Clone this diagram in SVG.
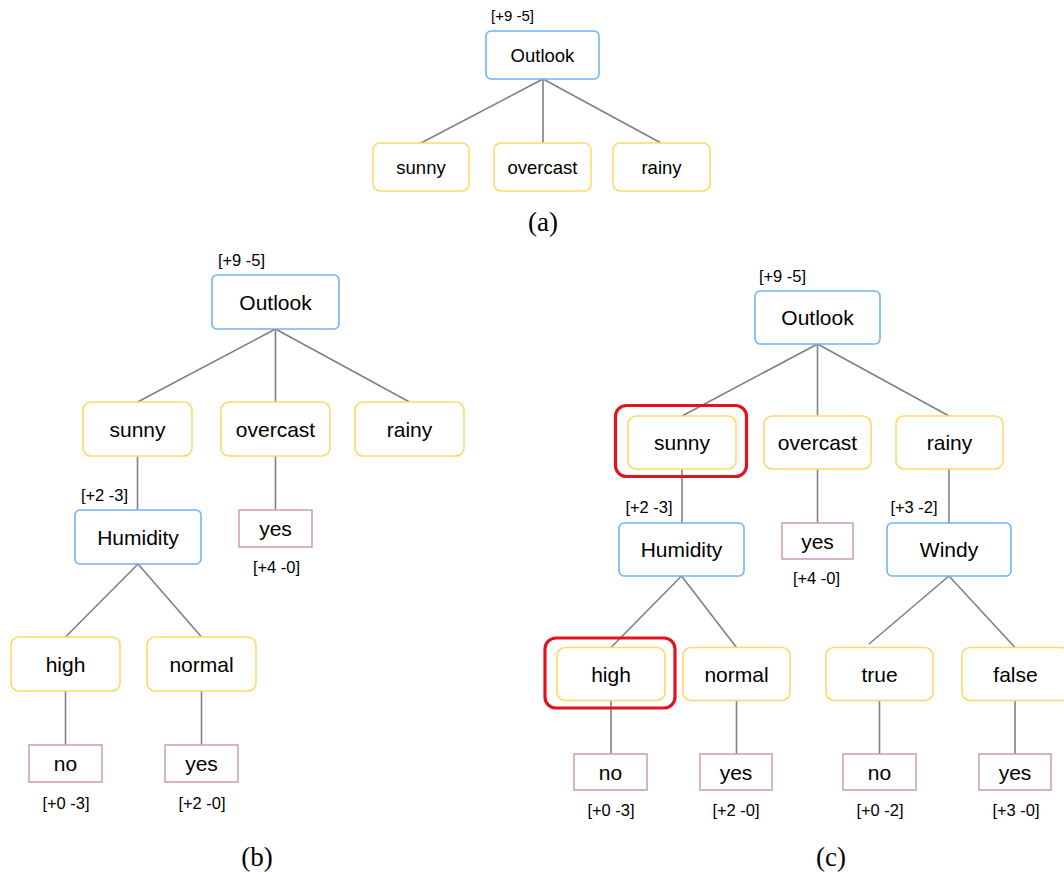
<svg xmlns="http://www.w3.org/2000/svg" width="1064" height="872" viewBox="0 0 1064 872">
<style>
.b{fill:#fff;stroke:#70B3F7;stroke-width:1.6}
.y{fill:#fff;stroke:#FFD966;stroke-width:1.6}
.p{fill:#fff;stroke:#CDA2BE;stroke-width:1.6}
.r{fill:none;stroke:#E3131D;stroke-width:3.2}
.e{stroke:#808080;stroke-width:1.6;fill:none}
.t{font-family:"Liberation Sans",Arial,sans-serif;fill:#000;text-anchor:middle;dominant-baseline:central}
.n{font-size:21px}
.na{font-size:18.5px}
.l{font-size:16.5px}
.la{font-size:15px}
.cap{font-family:"Liberation Serif","Times New Roman",serif;font-size:27px;text-anchor:middle;fill:#000}
</style>
<rect width="1064" height="872" fill="#fff"/>
<g id="connectors">
<line class="e" x1="543" y1="79" x2="421" y2="143"/>
<line class="e" x1="543" y1="79" x2="543" y2="143"/>
<line class="e" x1="543" y1="79" x2="661" y2="143"/>
<line class="e" x1="275.5" y1="329" x2="137.5" y2="402"/>
<line class="e" x1="275.5" y1="329" x2="275.5" y2="402"/>
<line class="e" x1="275.5" y1="329" x2="409.5" y2="402"/>
<line class="e" x1="137.5" y1="456" x2="137.5" y2="510"/>
<line class="e" x1="275.5" y1="456" x2="275.5" y2="510"/>
<line class="e" x1="138" y1="564" x2="65.5" y2="637"/>
<line class="e" x1="138" y1="564" x2="201.5" y2="637"/>
<line class="e" x1="65.5" y1="691" x2="65.5" y2="745"/>
<line class="e" x1="201.5" y1="691" x2="201.5" y2="745"/>
<line class="e" x1="817.5" y1="344" x2="682" y2="416"/>
<line class="e" x1="817.5" y1="344" x2="817.5" y2="416"/>
<line class="e" x1="817.5" y1="344" x2="949" y2="416"/>
<line class="e" x1="682" y1="469" x2="682" y2="523"/>
<line class="e" x1="817.5" y1="469" x2="817.5" y2="523"/>
<line class="e" x1="949" y1="469" x2="949" y2="523"/>
<line class="e" x1="681.5" y1="576" x2="611" y2="647.5"/>
<line class="e" x1="681.5" y1="576" x2="736.5" y2="647.5"/>
<line class="e" x1="949" y1="576" x2="869" y2="644"/>
<line class="e" x1="949" y1="576" x2="1015" y2="647.5"/>
<line class="e" x1="611" y1="700.5" x2="611" y2="754"/>
<line class="e" x1="736.5" y1="700.5" x2="736.5" y2="754"/>
<line class="e" x1="879.5" y1="700.5" x2="879.5" y2="754"/>
<line class="e" x1="1015" y1="700.5" x2="1015" y2="754"/>
</g>
<!-- panel a -->
<g id="a-outlook"><rect class="b" x="486" y="31" width="113" height="48" rx="5"/><text class="t na" x="542.5" y="55">Outlook</text><text class="t la" x="512.5" y="15">[+9 -5]</text></g>
<g id="a-sunny"><rect class="y" x="373" y="143" width="96" height="48" rx="7"/><text class="t na" x="421" y="167">sunny</text></g>
<g id="a-overcast"><rect class="y" x="494" y="143" width="97" height="48" rx="7"/><text class="t na" x="542.5" y="167">overcast</text></g>
<g id="a-rainy"><rect class="y" x="613" y="143" width="97" height="48" rx="7"/><text class="t na" x="661.5" y="167">rainy</text></g>
<text class="cap" x="543" y="231">(a)</text>
<!-- panel b -->
<g id="b-outlook"><rect class="b" x="212" y="275" width="127" height="54" rx="5"/><text class="t n" x="275.5" y="302">Outlook</text><text class="t l" x="241.5" y="260">[+9 -5]</text></g>
<g id="b-sunny"><rect class="y" x="83" y="402" width="109" height="54" rx="8"/><text class="t n" x="137.5" y="429">sunny</text></g>
<g id="b-overcast"><rect class="y" x="221" y="402" width="109" height="54" rx="8"/><text class="t n" x="275.5" y="429">overcast</text></g>
<g id="b-rainy"><rect class="y" x="355" y="402" width="109" height="54" rx="8"/><text class="t n" x="409.5" y="429">rainy</text></g>
<g id="b-humidity"><rect class="b" x="75" y="510" width="126" height="54" rx="5"/><text class="t n" x="138" y="537">Humidity</text><text class="t l" x="104.5" y="495">[+2 -3]</text></g>
<g id="b-yes1"><rect class="p" x="239" y="510" width="73" height="37"/><text class="t n" x="275.5" y="528.5">yes</text><text class="t l" x="276.5" y="567">[+4 -0]</text></g>
<g id="b-high"><rect class="y" x="11" y="637" width="109" height="54" rx="8"/><text class="t n" x="65.5" y="664">high</text></g>
<g id="b-normal"><rect class="y" x="147" y="637" width="109" height="54" rx="8"/><text class="t n" x="201.5" y="664">normal</text></g>
<g id="b-no"><rect class="p" x="29" y="745" width="73" height="37"/><text class="t n" x="65.5" y="763.5">no</text><text class="t l" x="66" y="803">[+0 -3]</text></g>
<g id="b-yes2"><rect class="p" x="165" y="745" width="73" height="37"/><text class="t n" x="201.5" y="763.5">yes</text><text class="t l" x="202" y="803">[+2 -0]</text></g>
<text class="cap" x="257" y="866">(b)</text>
<!-- panel c -->
<g id="c-outlook"><rect class="b" x="755" y="291" width="125" height="53" rx="5"/><text class="t n" x="817.5" y="317.5">Outlook</text><text class="t l" x="782.5" y="276">[+9 -5]</text></g>
<g id="c-sunny"><rect class="r" x="615.5" y="405.5" width="131" height="71" rx="11"/><rect class="y" x="628" y="416" width="108" height="53" rx="8"/><text class="t n" x="682" y="442.5">sunny</text></g>
<g id="c-overcast"><rect class="y" x="764" y="416" width="107" height="53" rx="8"/><text class="t n" x="817.5" y="442.5">overcast</text></g>
<g id="c-rainy"><rect class="y" x="896" y="416" width="107" height="53" rx="8"/><text class="t n" x="949.5" y="442.5">rainy</text></g>
<g id="c-humidity"><rect class="b" x="619" y="523" width="125" height="53" rx="5"/><text class="t n" x="681.5" y="549.5">Humidity</text><text class="t l" x="649" y="507">[+2 -3]</text></g>
<g id="c-yes1"><rect class="p" x="782" y="523" width="71" height="36"/><text class="t n" x="817.5" y="541">yes</text><text class="t l" x="816.5" y="578">[+4 -0]</text></g>
<g id="c-windy"><rect class="b" x="887" y="523" width="124" height="53" rx="5"/><text class="t n" x="949" y="549.5">Windy</text><text class="t l" x="914" y="507">[+3 -2]</text></g>
<g id="c-high"><rect class="r" x="545" y="638" width="130" height="70" rx="11"/><rect class="y" x="557" y="647.5" width="108" height="53" rx="8"/><text class="t n" x="611" y="674">high</text></g>
<g id="c-normal"><rect class="y" x="683" y="647.5" width="107" height="53" rx="8"/><text class="t n" x="736.5" y="674">normal</text></g>
<g id="c-true"><rect class="y" x="826" y="647.5" width="107" height="53" rx="8"/><text class="t n" x="879.5" y="674">true</text></g>
<g id="c-false"><rect class="y" x="962" y="647.5" width="107" height="53" rx="8"/><text class="t n" x="1015.5" y="674">false</text></g>
<g id="c-no1"><rect class="p" x="574" y="754" width="73" height="36"/><text class="t n" x="610.5" y="772">no</text><text class="t l" x="611" y="810">[+0 -3]</text></g>
<g id="c-yes2"><rect class="p" x="700" y="754" width="72" height="36"/><text class="t n" x="736" y="772">yes</text><text class="t l" x="736" y="810">[+2 -0]</text></g>
<g id="c-no2"><rect class="p" x="843" y="754" width="73" height="36"/><text class="t n" x="879.5" y="772">no</text><text class="t l" x="880" y="810">[+0 -2]</text></g>
<g id="c-yes3"><rect class="p" x="979" y="754" width="72" height="36"/><text class="t n" x="1015" y="772">yes</text><text class="t l" x="1016" y="810">[+3 -0]</text></g>
<text class="cap" x="831" y="866">(c)</text>
</svg>
